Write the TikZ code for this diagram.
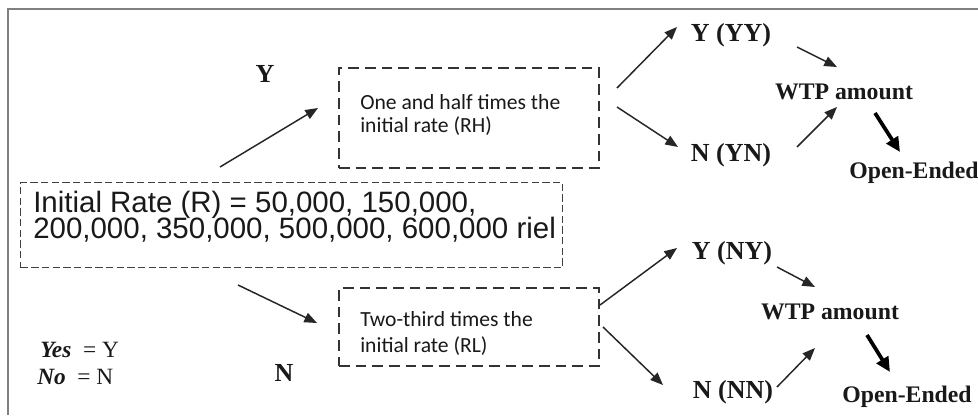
\documentclass[tikz,border=0pt]{standalone}
\usepackage{fontspec}
\setmainfont{Liberation Serif}
\newfontfamily\arialf{Liberation Sans}
\newfontfamily\calif{Carlito}
\usetikzlibrary{arrows.meta}
\newcommand{\mytwolines}[3]{\vtop{\baselineskip=#1\lineskiplimit=-\maxdimen\hbox{#2}\hbox{#3}}}
\begin{document}
\begin{tikzpicture}[x=0.75pt,y=-0.75pt,
  bigbox/.style={draw=black!75, line width=1.1pt, dash pattern=on 5.5pt off 2.5pt, inner sep=0pt, anchor=north west},
  dbox/.style={draw=black!80, line width=1.4pt, dash pattern=on 8pt off 4.5pt, inner sep=0pt, anchor=north west},
  lbl/.style={font=\fontsize{17.8}{20}\selectfont\bfseries, inner sep=0pt, text=black!90},
  blbl/.style={font=\fontsize{19.5}{22}\selectfont\bfseries, inner sep=0pt, text=black!90},
  boxtxt/.style={font=\calif\fontsize{16.2}{19}\selectfont, inner sep=0pt, anchor=base west, text=black!90},
  legtxt/.style={font=\fontsize{17.5}{20}\selectfont, inner sep=0pt, anchor=base west, text=black!90},
  arr/.style={-{Triangle[length=9.5pt,width=7.5pt]}, line width=1.1pt, draw=black!85},
  tarr/.style={-{Triangle[length=11pt,width=10pt]}, line width=2.8pt, draw=black},
]
\useasboundingbox (0,0) rectangle (978,415);
\fill[white] (0,0) rectangle (978,415);
\draw[gray, line width=1.5pt] (8,415) -- (8,9) -- (978,9);

% boxes
\node[bigbox, minimum width=406.5pt, minimum height=63.75pt] (big) at (20,182) {};
\node[dbox, minimum width=195pt, minimum height=75pt] (rh) at (338,67) {};
\node[dbox, minimum width=195pt, minimum height=58.5pt] (rl) at (338,287) {};

% box texts
\node[anchor=base west, inner sep=0pt, text=black!90, font=\arialf\fontsize{22.1}{19}\selectfont] (bigtext) at (33,212)
  {\mytwolines{19.6pt}{Initial Rate (R) = 50,000, 150,000,}{200,000, 350,000, 500,000, 600,000 riel}};
\node[boxtxt] (rhtext) at (360,109) {\mytwolines{17.5pt}{One and half times the}{initial rate (RH)}};
\node[boxtxt] (rltext) at (360,326) {\mytwolines{20pt}{Two-third times the}{initial rate (RL)}};

% labels
\node[blbl] (ylab) at (265,74) {Y};
\node[blbl] (nlab) at (284,373) {N};
\node[blbl] (yy) at (731,35) {Y (YY)};
\node[blbl] (yn) at (731,155) {N (YN)};
\node[lbl] (wtp1) at (844,92) {WTP amount};
\node[lbl] (oe1) at (914,173) {Open-Ended};
\node[blbl] (ny) at (732,253) {Y (NY)};
\node[blbl] (nn) at (733,392) {N (NN)};
\node[lbl] (wtp2) at (830,312) {WTP amount};
\node[lbl] (oe2) at (907,397) {Open-Ended};

% legend
\node[legtxt] (leg1) at (40,357) {\textbf{\textit{Yes}}\hspace{0.5em}= Y};
\node[legtxt] (leg2) at (37,384) {\textbf{\textit{No}}\hspace{0.5em}= N};

% arrow end points
\coordinate (a1s) at (220,167); \coordinate (a1e) at (318,108);
\coordinate (a2s) at (238,285); \coordinate (a2e) at (317,323);
\coordinate (b1s) at (617,88);  \coordinate (b1e) at (677,27);
\coordinate (b2s) at (617,107); \coordinate (b2e) at (678,147);
\coordinate (c1s) at (797,47);  \coordinate (c1e) at (837,67);
\coordinate (c2s) at (797,147); \coordinate (c2e) at (837,107);
\coordinate (d1s) at (875,113); \coordinate (d1e) at (900,152);
\coordinate (e1s) at (600,305); \coordinate (e1e) at (677,248);
\coordinate (e2s) at (603,327); \coordinate (e2e) at (663,385);
\coordinate (f1s) at (777,267); \coordinate (f1e) at (815,287);
\coordinate (f2s) at (777,387); \coordinate (f2e) at (815,348);
\coordinate (g1s) at (867,335); \coordinate (g1e) at (890,372);

\draw[arr] (a1s) -- (a1e);
\draw[arr] (a2s) -- (a2e);
\draw[arr] (b1s) -- (b1e);
\draw[arr] (b2s) -- (b2e);
\draw[arr] (c1s) -- (c1e);
\draw[arr] (c2s) -- (c2e);
\draw[tarr] (d1s) -- (d1e);
\draw[arr] (e1s) -- (e1e);
\draw[arr] (e2s) -- (e2e);
\draw[arr] (f1s) -- (f1e);
\draw[arr] (f2s) -- (f2e);
\draw[tarr] (g1s) -- (g1e);
\end{tikzpicture}
\end{document}
